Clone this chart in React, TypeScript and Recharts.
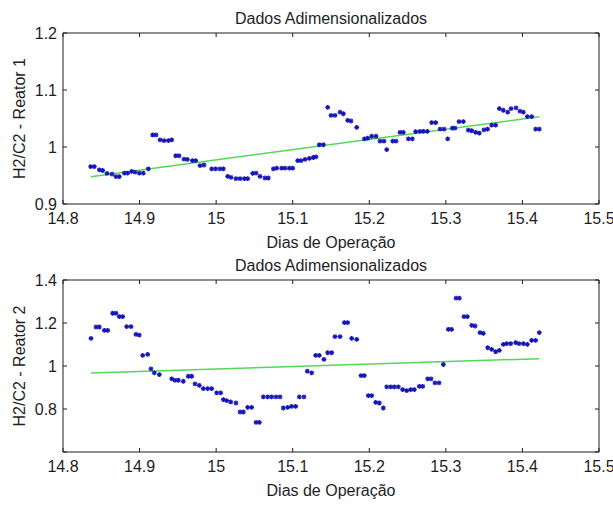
import React from "react"
import { ScatterChart, Scatter, XAxis, YAxis, ReferenceArea } from "recharts"

// Reator 1
const topDays = [
  14.8362, 14.8409, 14.8474, 14.8518, 14.8575, 14.864, 14.8692, 14.8735, 14.8801, 14.8845,
  14.8897, 14.894, 14.8996, 14.9049, 14.9114, 14.9171, 14.9215, 14.9267, 14.9319, 14.9375,
  14.942, 14.9472, 14.9515, 14.958, 14.9623, 14.9689, 14.9733, 14.9789, 14.9841, 14.9942,
  14.9994, 15.005, 15.0094, 15.0151, 15.0194, 15.0259, 15.0312, 15.0368, 15.0412, 15.0477,
  15.0521, 15.0573, 15.0638, 15.0681, 15.0747, 15.0791, 15.0856, 15.0899, 15.0955, 15.1,
  15.1065, 15.1108, 15.1161, 15.1217, 15.1269, 15.1304, 15.1347, 15.14, 15.1457, 15.15,
  15.1552, 15.1618, 15.1661, 15.1718, 15.1761, 15.1836, 15.1935, 15.1979, 15.2032, 15.2088,
  15.214, 15.2192, 15.2228, 15.2306, 15.2349, 15.2401, 15.2444, 15.251, 15.2562, 15.2606,
  15.2662, 15.2706, 15.2758, 15.2815, 15.2867, 15.2924, 15.2976, 15.3024, 15.3084, 15.3119,
  15.3172, 15.3228, 15.3293, 15.3338, 15.339, 15.3437, 15.3498, 15.3546, 15.3599, 15.3651,
  15.3698, 15.375, 15.3808, 15.3851, 15.3916, 15.3968, 15.4012, 15.4064, 15.4121, 15.4173,
  15.422,
]
const topRatio = [
  0.9657, 0.9657, 0.9599, 0.9588, 0.9537, 0.9525, 0.9479, 0.9479, 0.9542, 0.9542,
  0.9571, 0.9559, 0.9542, 0.9542, 0.9616, 1.0211, 1.0211, 1.0125, 1.0113, 1.0113,
  1.0125, 0.9846, 0.9846, 0.9787, 0.9782, 0.976, 0.976, 0.9674, 0.9684, 0.9616,
  0.9616, 0.9616, 0.9616, 0.9485, 0.9468, 0.9444, 0.9444, 0.9444, 0.9444, 0.9537,
  0.9542, 0.9485, 0.9456, 0.9456, 0.9616, 0.9628, 0.9628, 0.9628, 0.9628, 0.9628,
  0.976, 0.976, 0.9782, 0.9799, 0.9816, 0.9828, 1.0039, 1.0039, 1.0696, 1.0554,
  1.0554, 1.0611, 1.0583, 1.0468, 1.0456, 1.0343, 1.0142, 1.0154, 1.0189, 1.0189,
  1.0103, 1.0103, 0.9954, 1.0103, 1.0103, 1.0257, 1.0257, 1.0142, 1.0142, 1.0268,
  1.0274, 1.0274, 1.0274, 1.0429, 1.0429, 1.0314, 1.0314, 1.0142, 1.0331, 1.0331,
  1.0446, 1.0446, 1.0297, 1.0285, 1.0257, 1.0245, 1.0302, 1.0314, 1.0383, 1.0383,
  1.0674, 1.0645, 1.0611, 1.0674, 1.0686, 1.0628, 1.0611, 1.0532, 1.0532, 1.0314,
  1.0314,
]
const topTrendDays = [14.8362, 15.422]
const topTrendRatio = [0.948, 1.053]

// Reator 2
const bottomDays = [
  14.8366, 14.8431, 14.8474, 14.8539, 14.8584, 14.8649, 14.8692, 14.8735, 14.878, 14.8832,
  14.8888, 14.8953, 14.8996, 14.9041, 14.9106, 14.9149, 14.9192, 14.9258, 14.942, 14.9463,
  14.9506, 14.9571, 14.9636, 14.9681, 14.9724, 14.978, 14.9832, 14.989, 14.9942, 15.0007,
  15.006, 15.0094, 15.0138, 15.019, 15.0259, 15.0312, 15.0355, 15.0412, 15.0464, 15.0521,
  15.0564, 15.0616, 15.0673, 15.0726, 15.0782, 15.0834, 15.0877, 15.0935, 15.0987, 15.1039,
  15.1086, 15.1147, 15.119, 15.1248, 15.13, 15.1347, 15.1408, 15.1457, 15.1509, 15.1552,
  15.1618, 15.1674, 15.1718, 15.177, 15.1836, 15.1892, 15.1935, 15.1987, 15.2032, 15.2084,
  15.2131, 15.2183, 15.2228, 15.228, 15.2327, 15.2379, 15.2436, 15.2489, 15.2541, 15.2588,
  15.2653, 15.2698, 15.2763, 15.2806, 15.2858, 15.2911, 15.2967, 15.3032, 15.3076, 15.3133,
  15.3176, 15.3237, 15.328, 15.3338, 15.3381, 15.3446, 15.3489, 15.3547, 15.3599, 15.3651,
  15.3698, 15.375, 15.3795, 15.3847, 15.3912, 15.3955, 15.4012, 15.4064, 15.4121, 15.4173,
  15.422,
]
const bottomRatio = [
  1.1285, 1.1813, 1.1813, 1.1659, 1.1659, 1.2453, 1.2453, 1.2299, 1.2299, 1.1832,
  1.1832, 1.1472, 1.1439, 1.0491, 1.0537, 0.9869, 0.9682, 0.9603, 0.9402, 0.9336,
  0.9336, 0.929, 0.9523, 0.9523, 0.9168, 0.9103, 0.8949, 0.8949, 0.8949, 0.8748,
  0.8748, 0.8435, 0.8388, 0.8327, 0.828, 0.786, 0.786, 0.8075, 0.8075, 0.7374,
  0.7374, 0.8561, 0.8561, 0.8561, 0.8561, 0.8561, 0.8047, 0.8075, 0.8121, 0.8121,
  0.8561, 0.8561, 0.9757, 0.9682, 1.0491, 1.0491, 1.0304, 1.0617, 1.0617, 1.1364,
  1.1364, 1.2019, 1.2019, 1.1285, 1.1238, 0.9556, 0.9556, 0.8621, 0.8621, 0.8308,
  0.828, 0.8047, 0.9028, 0.9028, 0.9028, 0.9028, 0.8902, 0.8855, 0.8902, 0.8902,
  0.9056, 0.9056, 0.9402, 0.9402, 0.9215, 0.9215, 1.007, 1.1706, 1.1706, 1.3154,
  1.3154, 1.2299, 1.2299, 1.1893, 1.186, 1.1551, 1.1519, 1.085, 1.0771, 1.0664,
  1.0724, 1.1005, 1.1037, 1.1037, 1.1084, 1.1037, 1.1037, 1.1005, 1.1192, 1.1192,
  1.1551,
]
const bottomTrendDays = [14.8366, 15.422]
const bottomTrendRatio = [0.968, 1.034]

const dayTicks = [14.8, 14.9, 15, 15.1, 15.2, 15.3, 15.4, 15.5]
const topRatioTicks = [0.9, 1, 1.1, 1.2]
const bottomRatioTicks = [0.6, 0.8, 1, 1.2, 1.4]

const title = "Dados Adimensionalizados"
const xLabel = "Dias de Operação"
const topYLabel = "H2/C2 - Reator 1"
const bottomYLabel = "H2/C2 - Reator 2"

const font = "'Liberation Sans', Arial, sans-serif"
const ink = "#1e1e1e"
const markerColor = "#1414b8"
const trendColor = "#55d955"
const tickLen = 4
const gapX = 9
const gapY = 6

const zip = (xs: number[], ys: number[]) => xs.map((d, i) => ({ day: d, ratio: ys[i] }))

function Star(props: any) {
  const { cx, cy } = props
  if (cx == null || cy == null) return <g />
  const r = 2.4
  const d = 1.7
  return (
    <g stroke={markerColor} strokeWidth={1.3}>
      <line x1={cx - r} y1={cy} x2={cx + r} y2={cy} />
      <line x1={cx} y1={cy - r} x2={cx} y2={cy + r} />
      <line x1={cx - d} y1={cy - d} x2={cx + d} y2={cy + d} />
      <line x1={cx - d} y1={cy + d} x2={cx + d} y2={cy - d} />
    </g>
  )
}

const noDot = () => <g />

// MATLAB-style ticks: pointing into the box, label outside
function boxTick(side: "bottom" | "top" | "left" | "right", gap: number, fmt?: (v: number) => string) {
  return (props: any) => {
    const { x, y, payload } = props
    const text = fmt ? fmt(payload.value) : ""
    const txt = { fontSize: 16, fill: ink, fontFamily: font }
    if (side === "bottom") {
      const ay = y - gap
      return (
        <g>
          <line x1={x} y1={ay} x2={x} y2={ay - tickLen} stroke={ink} />
          <text x={x} y={y} dy="0.71em" textAnchor="middle" {...txt}>{text}</text>
        </g>
      )
    }
    if (side === "top") {
      const ay = y + gap
      return <line x1={x} y1={ay} x2={x} y2={ay + tickLen} stroke={ink} />
    }
    if (side === "left") {
      const ax = x + gap
      return (
        <g>
          <line x1={ax} y1={y} x2={ax + tickLen} y2={y} stroke={ink} />
          <text x={x} y={y} dy="0.36em" textAnchor="end" {...txt}>{text}</text>
        </g>
      )
    }
    const ax = x - gap
    return <line x1={ax} y1={y} x2={ax - tickLen} y2={y} stroke={ink} />
  }
}

interface PanelProps {
  points: { day: number; ratio: number }[]
  trend: { day: number; ratio: number }[]
  yDomain: [number, number]
  yTicks: number[]
  yLabel: string
  height: number
  hideLabel?: number
}

function Panel({ points, trend, yDomain, yTicks, yLabel, height, hideLabel }: PanelProps) {
  const yFmt = (v: number) => (v === hideLabel ? "" : String(v))
  const labelStyle = { fontSize: 16, fill: ink, fontFamily: font }
  return (
    <ScatterChart width={613} height={height} margin={{ top: 32, right: 13, bottom: 0, left: 0 }}>
      <XAxis
        xAxisId="b"
        dataKey="day"
        type="number"
        domain={[14.8, 15.5]}
        ticks={dayTicks}
        allowDataOverflow
        height={47}
        axisLine={false}
        tickLine={false}
        tickSize={0}
        tickMargin={gapX}
        tick={boxTick("bottom", gapX, (v) => String(v))}
        label={{ value: xLabel, position: "insideBottom", offset: 3, style: labelStyle }}
      />
      <XAxis
        xAxisId="t"
        orientation="top"
        dataKey="day"
        type="number"
        domain={[14.8, 15.5]}
        ticks={dayTicks}
        allowDataOverflow
        height={1}
        axisLine={false}
        tickLine={false}
        tickSize={0}
        tickMargin={gapX}
        tick={boxTick("top", gapX)}
        label={{ value: title, position: "top", offset: 8, style: labelStyle }}
      />
      <YAxis
        yAxisId="l"
        dataKey="ratio"
        type="number"
        domain={yDomain}
        ticks={yTicks}
        allowDataOverflow
        width={63}
        axisLine={false}
        tickLine={false}
        tickSize={0}
        tickMargin={gapY}
        tick={boxTick("left", gapY, yFmt)}
        label={{ value: yLabel, angle: -90, position: "insideLeft", offset: 19, style: { ...labelStyle, textAnchor: "middle" } }}
      />
      <YAxis
        yAxisId="r"
        orientation="right"
        dataKey="ratio"
        type="number"
        domain={yDomain}
        ticks={yTicks}
        allowDataOverflow
        width={1}
        axisLine={false}
        tickLine={false}
        tickSize={0}
        tickMargin={gapY}
        tick={boxTick("right", gapY)}
      />
      <ReferenceArea
        xAxisId="b"
        yAxisId="l"
        x1={14.8}
        x2={15.5}
        y1={yDomain[0]}
        y2={yDomain[1]}
        fill="none"
        fillOpacity={0}
        stroke={ink}
        strokeOpacity={1}
      />
      <Scatter xAxisId="t" yAxisId="r" data={points} shape={noDot} isAnimationActive={false} />
      <Scatter
        xAxisId="b"
        yAxisId="l"
        data={trend}
        line={{ stroke: trendColor, strokeWidth: 1.5 }}
        shape={noDot}
        isAnimationActive={false}
      />
      <Scatter xAxisId="b" yAxisId="l" data={points} shape={Star} isAnimationActive={false} />
    </ScatterChart>
  )
}

export default function App() {
  return (
    <div style={{ position: "absolute", left: 0, top: 0, width: 613, height: 506, background: "#fff" }}>
      <div style={{ position: "absolute", left: 0, top: 0 }}>
        <Panel
          points={zip(topDays, topRatio)}
          trend={zip(topTrendDays, topTrendRatio)}
          yDomain={[0.9, 1.2]}
          yTicks={topRatioTicks}
          yLabel={topYLabel}
          height={251}
        />
      </div>
      <div style={{ position: "absolute", left: 0, top: 247 }}>
        <Panel
          points={zip(bottomDays, bottomRatio)}
          trend={zip(bottomTrendDays, bottomTrendRatio)}
          yDomain={[0.6, 1.4]}
          yTicks={bottomRatioTicks}
          yLabel={bottomYLabel}
          height={252}
          hideLabel={0.6}
        />
      </div>
    </div>
  )
}
